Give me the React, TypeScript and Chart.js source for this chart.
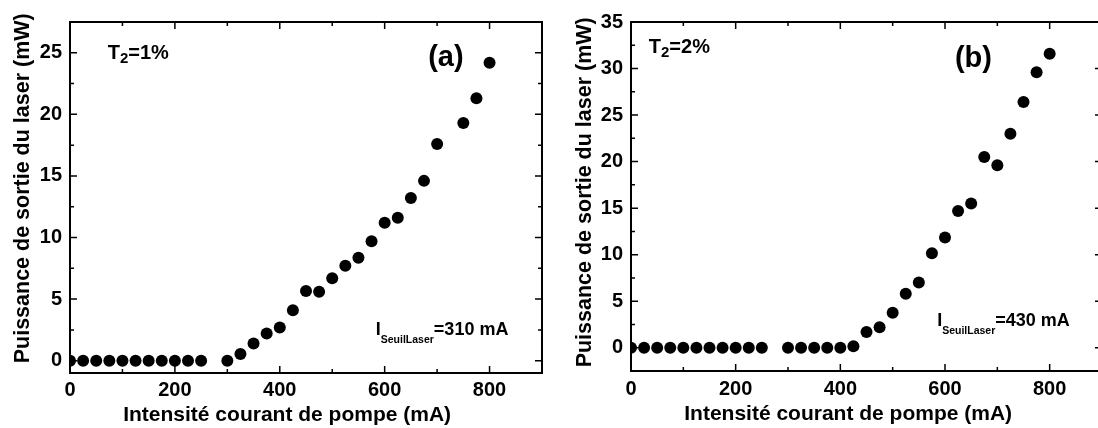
import React, { useEffect, useRef } from "react";
import { Chart, registerables } from "chart.js";

Chart.register(...registerables);

const FONT = '"Liberation Sans", Arial, Helvetica, sans-serif';

// ---- Data: panel (a), T2 = 1%
const currentA = [0, 25, 50, 75, 100, 125, 150, 175, 200, 225, 250, 300, 325, 350, 375, 400, 425, 450, 475, 500, 525, 550, 575, 600, 625, 650, 675, 700, 750, 775, 800];
const powerA = [0, 0, 0, 0, 0, 0, 0, 0, 0, 0, 0, 0, 0.55, 1.4, 2.2, 2.7, 4.1, 5.65, 5.6, 6.7, 7.7, 8.35, 9.7, 11.2, 11.6, 13.2, 14.6, 17.6, 19.3, 21.3, 24.2];

// ---- Data: panel (b), T2 = 2%
const currentB = [0, 25, 50, 75, 100, 125, 150, 175, 200, 225, 250, 300, 325, 350, 375, 400, 425, 450, 475, 500, 525, 550, 575, 600, 625, 650, 675, 700, 725, 750, 775, 800];
const powerB = [0, 0, 0, 0, 0, 0, 0, 0, 0, 0, 0, 0, 0, 0, 0, 0, 0.15, 1.7, 2.2, 3.75, 5.8, 7.0, 10.15, 11.85, 14.7, 15.5, 20.5, 19.6, 23.0, 26.4, 29.6, 31.6];

// ---- Tick labels
const xTickValues = [0, 200, 400, 600, 800];
const xMinorTickValues = [100, 300, 500, 700];
const yTickValuesA = [0, 5, 10, 15, 20, 25];
const yMinorTickValuesA = [2.5, 7.5, 12.5, 17.5, 22.5];
const yTickValuesB = [0, 5, 10, 15, 20, 25, 30, 35];
const yMinorTickValuesB = [2.5, 7.5, 12.5, 17.5, 22.5, 27.5, 32.5];

const xTitle = "Intensité courant de pompe (mA)";
const yTitle = "Puissance de sortie du laser (mW)";

type Run = { t: string; size: number; dy: number };
type Annotation = { x: number; y: number; runs: Run[] };

const annotationsA: Annotation[] = [
  { x: 72, y: 24.47, runs: [{ t: "T", size: 20, dy: 0 }, { t: "2", size: 15, dy: 4 }, { t: "=1%", size: 20, dy: 0 }] },
  { x: 683, y: 23.93, runs: [{ t: "(a)", size: 29, dy: 0 }] },
  { x: 583, y: 2.09, runs: [{ t: "I", size: 18, dy: 0 }, { t: "SeuilLaser", size: 10.5, dy: 8 }, { t: "=310 mA", size: 18, dy: 0 }] },
];
const annotationsB: Annotation[] = [
  { x: 34, y: 31.7, runs: [{ t: "T", size: 20, dy: 0 }, { t: "2", size: 15, dy: 4 }, { t: "=2%", size: 20, dy: 0 }] },
  { x: 619, y: 30.2, runs: [{ t: "(b)", size: 29, dy: 0 }] },
  { x: 585, y: 2.33, runs: [{ t: "I", size: 18, dy: 0 }, { t: "SeuilLaser", size: 10.5, dy: 8 }, { t: "=430 mA", size: 18, dy: 0 }] },
];

const framePlugin = {
  id: "frame",
  afterDraw(chart: any, _args: any, opts: any) {
    const { ctx, chartArea: a, scales } = chart;
    const sx = scales.x;
    const sy = scales.y;
    ctx.save();
    ctx.strokeStyle = "#000";
    ctx.lineWidth = 1.5;
    const drawX = (v: number, len: number) => {
      const p = sx.getPixelForValue(v);
      if (p <= a.left + 1 || p >= a.right - 1) return;
      ctx.beginPath();
      ctx.moveTo(p, a.bottom);
      ctx.lineTo(p, a.bottom - len);
      ctx.moveTo(p, a.top);
      ctx.lineTo(p, a.top + len);
      ctx.stroke();
    };
    const drawY = (v: number, len: number) => {
      const p = sy.getPixelForValue(v);
      if (p <= a.top + 1 || p >= a.bottom - 1) return;
      ctx.beginPath();
      ctx.moveTo(a.left, p);
      ctx.lineTo(a.left + len, p);
      ctx.moveTo(a.right, p);
      ctx.lineTo(a.right - len, p);
      ctx.stroke();
    };
    opts.xMajor.forEach((v: number) => drawX(v, 7));
    opts.xMinor.forEach((v: number) => drawX(v, 4));
    opts.yMajor.forEach((v: number) => drawY(v, 7));
    opts.yMinor.forEach((v: number) => drawY(v, 4));
    ctx.lineWidth = 2;
    ctx.strokeRect(a.left, a.top, a.right - a.left, a.bottom - a.top);

    ctx.fillStyle = "#000";
    ctx.textBaseline = "alphabetic";
    ctx.textAlign = "left";
    (opts.annotations as Annotation[]).forEach((an) => {
      let x = sx.getPixelForValue(an.x);
      const y = sy.getPixelForValue(an.y);
      an.runs.forEach((r) => {
        ctx.font = `bold ${r.size}px ${FONT}`;
        ctx.fillText(r.t, x, y + r.dy);
        x += ctx.measureText(r.t).width;
      });
    });

    // axis titles
    ctx.textBaseline = "middle";
    ctx.textAlign = "center";
    ctx.font = `bold 21px ${FONT}`;
    ctx.fillText(xTitle, sx.getPixelForValue(opts.xTitleAt), a.bottom + opts.xTitleBelow);
    ctx.save();
    ctx.font = `bold 21.5px ${FONT}`;
    ctx.translate(a.left - opts.yTitleLeft, sy.getPixelForValue(opts.yTitleAt));
    ctx.rotate(-Math.PI / 2);
    ctx.fillText(yTitle, 0, 0);
    ctx.restore();

    ctx.restore();
  },
};

type Props = {
  xs: number[];
  ys: number[];
  yMin: number;
  yMax: number;
  yTicks: number[];
  yMinor: number[];
  canvasLeft: number;
  canvasWidth: number;
  yAxisWidth: number;
  xAxisHeight: number;
  padTop: number;
  padRight: number;
  xTickPad: number;
  xTitleAt: number;
  xTitleBelow: number;
  yTitleAt: number;
  yTitleLeft: number;
  annotations: Annotation[];
};

function LaserChart(p: Props) {
  const ref = useRef<HTMLCanvasElement | null>(null);
  useEffect(() => {
    if (!ref.current) return;
    const tickFont = { family: FONT, size: 20, weight: "bold" as const };
    const chart = new Chart(ref.current, {
      type: "scatter",
      data: {
        datasets: [
          {
            data: p.xs.map((x, i) => ({ x, y: p.ys[i] })),
            backgroundColor: "#000",
            borderColor: "#000",
            borderWidth: 0,
            pointRadius: 6,
            pointHoverRadius: 6,
            showLine: false,
          },
        ],
      },
      options: {
        animation: false,
        responsive: false,
        maintainAspectRatio: false,
        events: [],
        layout: { padding: { left: 0, top: p.padTop, right: p.padRight, bottom: 0 } },
        plugins: {
          legend: { display: false },
          tooltip: { enabled: false },
          frame: {
            xMajor: xTickValues,
            xMinor: xMinorTickValues,
            yMajor: p.yTicks,
            yMinor: p.yMinor,
            annotations: p.annotations,
            xTitleAt: p.xTitleAt,
            xTitleBelow: p.xTitleBelow,
            yTitleAt: p.yTitleAt,
            yTitleLeft: p.yTitleLeft,
          },
        } as any,
        scales: {
          x: {
            type: "linear",
            min: 0,
            max: 900,
            grid: { display: false, drawTicks: false },
            border: { display: false },
            afterBuildTicks: (s: any) => {
              s.ticks = xTickValues.map((v) => ({ value: v }));
            },
            afterFit: (s: any) => {
              s.height = p.xAxisHeight;
            },
            ticks: { font: tickFont, color: "#000", padding: p.xTickPad, maxRotation: 0, autoSkip: false },
            title: { display: false },
          },
          y: {
            type: "linear",
            min: p.yMin,
            max: p.yMax,
            grid: { display: false, drawTicks: false },
            border: { display: false },
            afterBuildTicks: (s: any) => {
              s.ticks = p.yTicks.map((v) => ({ value: v }));
            },
            afterFit: (s: any) => {
              s.width = p.yAxisWidth;
            },
            ticks: { font: tickFont, color: "#000", padding: 8, autoSkip: false },
            title: { display: false },
          },
        },
      } as any,
      plugins: [framePlugin as any],
    });
    return () => chart.destroy();
  }, []);
  return (
    <canvas
      ref={ref}
      width={p.canvasWidth}
      height={428}
      style={{ position: "absolute", left: p.canvasLeft, top: 0, width: p.canvasWidth, height: 428 }}
    />
  );
}

export default function App() {
  return (
    <div
      style={{
        position: "fixed",
        left: 0,
        top: 0,
        width: 1098,
        height: 428,
        overflow: "hidden",
        background: "#fff",
      }}
    >
      <LaserChart
        xs={currentA}
        ys={powerA}
        yMin={-1}
        yMax={27.5}
        yTicks={yTickValuesA}
        yMinor={yMinorTickValuesA}
        canvasLeft={0}
        canvasWidth={548}
        yAxisWidth={70}
        xAxisHeight={55}
        padTop={22}
        padRight={4}
        xTickPad={5}
        xTitleAt={414}
        xTitleBelow={42.5}
        yTitleAt={14}
        yTitleLeft={46.5}
        annotations={annotationsA}
      />
      <LaserChart
        xs={currentB}
        ys={powerB}
        yMin={-2.5}
        yMax={35}
        yTicks={yTickValuesB}
        yMinor={yMinorTickValuesB}
        canvasLeft={548}
        canvasWidth={560}
        yAxisWidth={83}
        xAxisHeight={57}
        padTop={22}
        padRight={4}
        xTickPad={6}
        xTitleAt={415}
        xTitleBelow={43.5}
        yTitleAt={16.7}
        yTitleLeft={45.5}
        annotations={annotationsB}
      />
    </div>
  );
}
